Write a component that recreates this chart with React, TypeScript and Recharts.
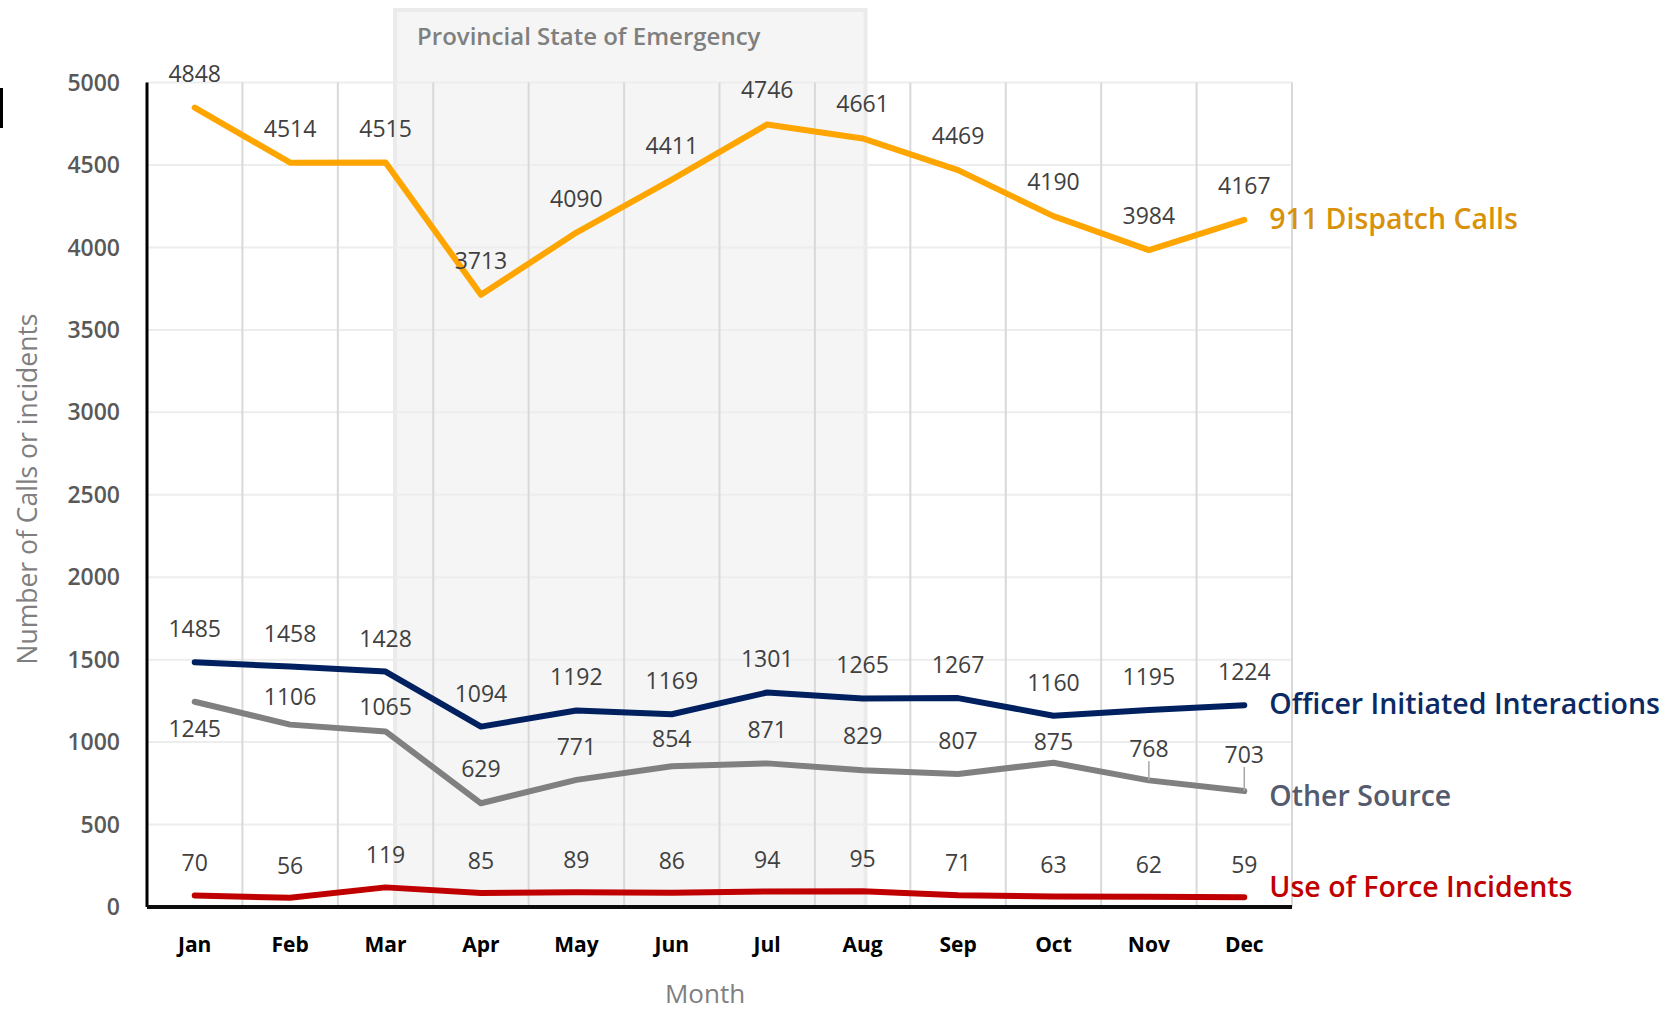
import {
  LabelList,
  Line,
  LineChart,
  ReferenceArea,
  ReferenceLine,
  XAxis,
  YAxis,
} from "recharts"

const MONTHS = ["Jan", "Feb", "Mar", "Apr", "May", "Jun", "Jul", "Aug", "Sep", "Oct", "Nov", "Dec"]
const DISPATCH = [4848, 4514, 4515, 3713, 4090, 4411, 4746, 4661, 4469, 4190, 3984, 4167]
const OFFICER = [1485, 1458, 1428, 1094, 1192, 1169, 1301, 1265, 1267, 1160, 1195, 1224]
const OTHER = [1245, 1106, 1065, 629, 771, 854, 871, 829, 807, 875, 768, 703]
const FORCE = [70, 56, 119, 85, 89, 86, 94, 95, 71, 63, 62, 59]
const Y_TICKS = [0, 500, 1000, 1500, 2000, 2500, 3000, 3500, 4000, 4500, 5000]

// emergency period runs from just after Mar to Aug
const EMERGENCY_START = 2.1
const EMERGENCY_END = 7.03
const Y_TOP = 5440

const FONT = '"Open Sans", "Noto Sans", sans-serif'

const data = MONTHS.map((month, i) => ({
  idx: i,
  month,
  dispatch: DISPATCH[i],
  officer: OFFICER[i],
  other: OTHER[i],
  force: FORCE[i],
}))

// label nudges for the grey series (first label sits under the line)
const OTHER_LABEL_DY = [26, -29, -25, -35, -34, -28, -34, -35, -34, -22, -32, -37]

const SERIES = [
  { key: "dispatch", name: "911 Dispatch Calls", stroke: "#FFA500", text: "#D8920A", dy: -35, nameDy: -2 },
  { key: "officer", name: "Officer Initiated Interactions", stroke: "#002060", text: "#0B2A63", dy: -34, nameDy: -2 },
  { key: "other", name: "Other Source", stroke: "#808080", text: "#555B6E", dy: OTHER_LABEL_DY, nameDy: 4 },
  { key: "force", name: "Use of Force Incidents", stroke: "#C00000", text: "#C00000", dy: -33, nameDy: -11 },
]

function pos(props: any) {
  const x = props.x ?? props.viewBox?.x
  const y = props.y ?? props.viewBox?.y
  return { x, y }
}

function valueLabel(dy: number | number[], leaders: number[]) {
  return (props: any) => {
    const { x, y } = pos(props)
    if (x == null || y == null) return null
    const d = Array.isArray(dy) ? dy[props.index] : dy
    return (
      <g>
        {leaders.includes(props.index) && (
          <line x1={x} y1={y + d + 13} x2={x} y2={y} stroke="#a6a6a6" strokeWidth={1.5} />
        )}
        <text x={x} y={y + d} textAnchor="middle" dominantBaseline="central" fill="#404040" fontSize={23}>
          {props.value}
        </text>
      </g>
    )
  }
}

function nameLabel(name: string, color: string, dy: number) {
  return (props: any) => {
    if (props.index !== MONTHS.length - 1) return null
    const { x, y } = pos(props)
    if (x == null || y == null) return null
    return (
      <text x={x + 25} y={y + dy} dominantBaseline="central" fill={color} fontSize={28.5} fontWeight={600}>
        {name}
      </text>
    )
  }
}

function emergencyLabel(props: any) {
  const vb = props.viewBox || {}
  return (
    <text x={vb.x + 22} y={vb.y + 25} dominantBaseline="central" fill="#7f7f7f" fontSize={24} fontWeight={600}>
      Provincial State of Emergency
    </text>
  )
}

export default function App() {
  return (
    <div style={{ position: "absolute", left: 0, top: 0, width: 1664, height: 1011, background: "#fff", fontFamily: FONT }}>
      <div style={{ position: "absolute", left: 0, top: 88, width: 3, height: 40, background: "#000" }} />
      <LineChart
        width={1664}
        height={1011}
        data={data}
        margin={{ top: 10, right: 372, bottom: 44, left: 67 }}
        style={{ fontFamily: FONT }}
      >
        <ReferenceArea
          x1={EMERGENCY_START}
          x2={EMERGENCY_END}
          y1={0}
          y2={Y_TOP}
          fill="#f5f5f5"
          fillOpacity={1}
          stroke="#ebebeb"
          strokeWidth={4}
          label={emergencyLabel}
        />
        {Y_TICKS.map((t) => (
          <ReferenceLine key={`h${t}`} y={t} stroke="#ededed" strokeWidth={2} />
        ))}
        {MONTHS.map((m, i) => (
          <ReferenceLine
            key={m}
            segment={[{ x: i + 0.5, y: 0 }, { x: i + 0.5, y: 5000 }]}
            stroke="#d9d9d9"
            strokeWidth={2}
          />
        ))}
        <XAxis
          dataKey="idx"
          type="number"
          domain={[-0.5, 11.5]}
          ticks={MONTHS.map((_, i) => i)}
          tickFormatter={(v: number) => MONTHS[v]}
          interval={0}
          tickLine={false}
          tickSize={0}
          tickMargin={30}
          height={60}
          axisLine={{ stroke: "#0d0d0d", strokeWidth: 4 }}
          tick={{ fill: "#000", fontSize: 21, fontWeight: 700 }}
          label={() => (
            <text x={705} y={993} textAnchor="middle" dominantBaseline="central" fill="#7f7f7f" fontSize={26}>
              Month
            </text>
          )}
        />
        <YAxis
          type="number"
          domain={[0, Y_TOP]}
          ticks={Y_TICKS}
          interval={0}
          axisLine={false}
          tickLine={false}
          tickSize={0}
          tickMargin={27}
          width={80}
          tick={{ fill: "#595959", fontSize: 23, fontWeight: 600 }}
          label={() => (
            <text
              x={27}
              y={489}
              transform="rotate(-90 27 489)"
              textAnchor="middle"
              dominantBaseline="central"
              fill="#7f7f7f"
              fontSize={26.5}
            >
              Number of Calls or incidents
            </text>
          )}
        />
        {SERIES.map((s) => (
          <Line
            key={s.key}
            type="linear"
            dataKey={s.key}
            stroke={s.stroke}
            strokeWidth={6}
            strokeLinecap="round"
            strokeLinejoin="round"
            dot={false}
            activeDot={false}
            isAnimationActive={false}
          >
            <LabelList dataKey={s.key} content={valueLabel(s.dy, s.key === "other" ? [10, 11] : [])} />
            <LabelList dataKey={s.key} content={nameLabel(s.name, s.text, s.nameDy)} />
          </Line>
        ))}
        <ReferenceLine segment={[{ x: -0.5, y: 0 }, { x: -0.5, y: 5000 }]} stroke="#000" strokeWidth={3} />
      </LineChart>
    </div>
  )
}
